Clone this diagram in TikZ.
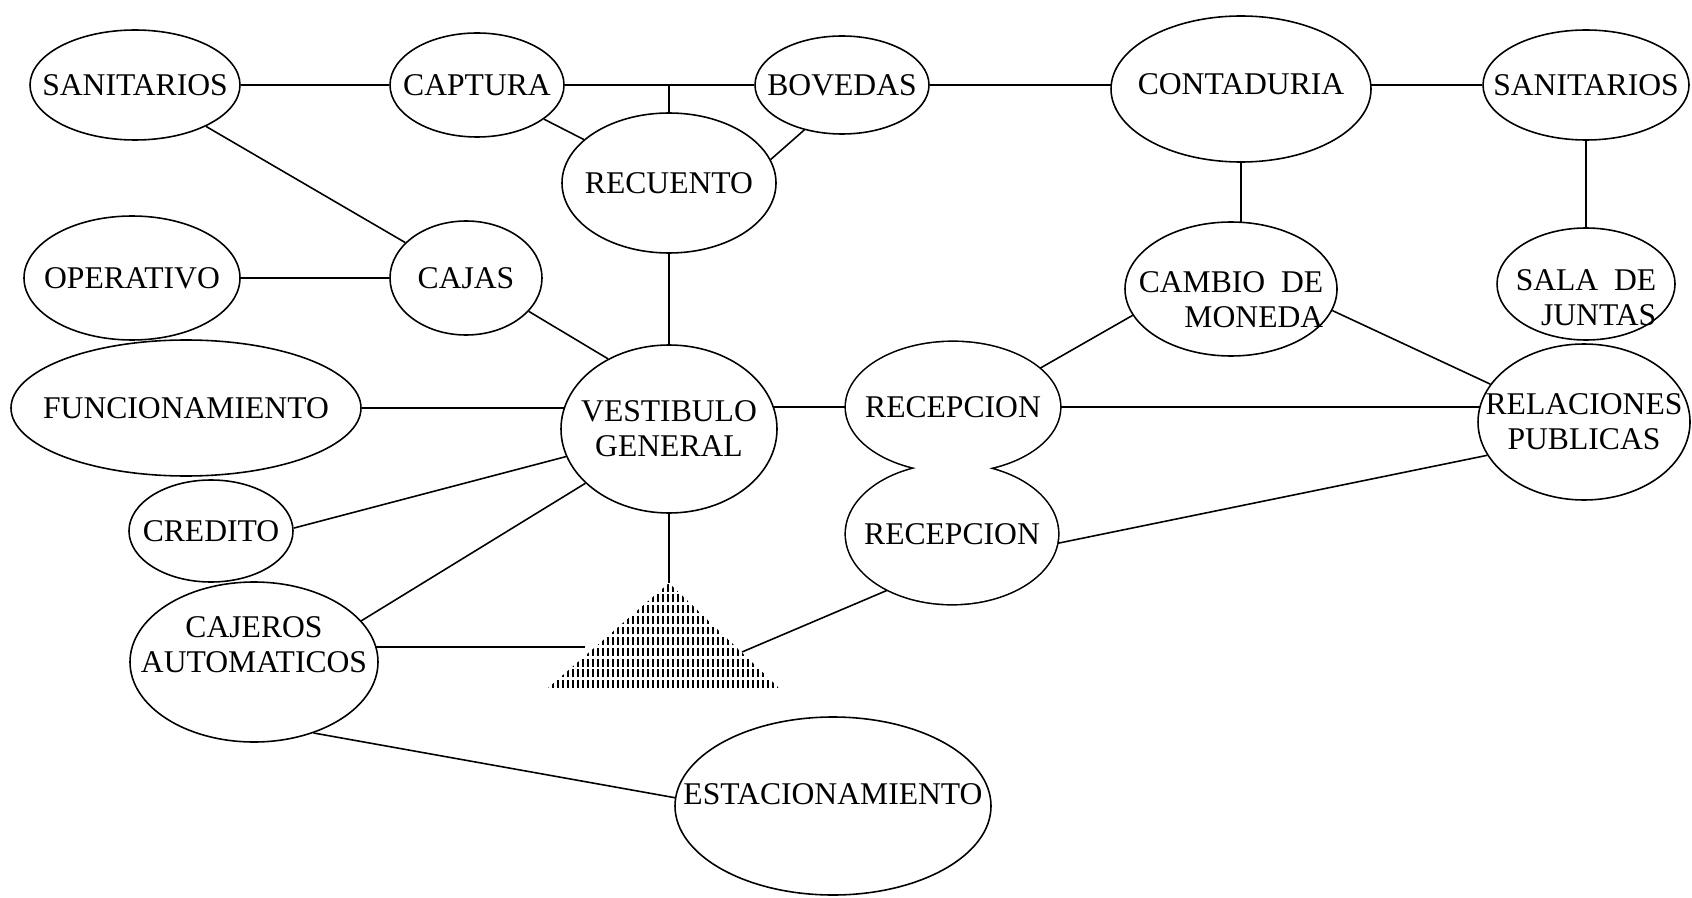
\documentclass[tikz,border=0pt]{standalone}
\usepackage{fontspec}
\setmainfont{Liberation Serif}
\usetikzlibrary{shapes.geometric,backgrounds}

\tikzset{
  room/.style 2 args={ellipse, draw, fill=white, line width=0.9pt, inner sep=0pt,
    minimum width=2*#1*0.02cm, minimum height=2*#2*0.02cm},
  every label/.style={align=center},
  link/.style={line width=0.9pt},
}

\begin{document}
\begin{tikzpicture}[x=0.02cm, y=-0.02cm, font=\fontsize{18}{20}\selectfont]
  \useasboundingbox (0,0) rectangle (1692,898);

  % top row
  \node[room={105}{55}, label=center:SANITARIOS] (sanL) at (135,85) {};
  \node[room={87}{52}, label=center:CAPTURA] (capt) at (477,85) {};
  \node[room={87}{49}, label=center:BOVEDAS] (bov) at (842,85) {};
  \node[room={107}{70}, label=center:RECUENTO] (recu) at (669,183) {};
  \node[room={130}{73}, label={[yshift=3pt]center:CONTADURIA}] (cont) at (1241,89) {};
  \node[room={103}{55}, label=center:SANITARIOS] (sanR) at (1586,85) {};

  % second row
  \node[room={108}{62}, label=center:OPERATIVO] (oper) at (132,278) {};
  \node[room={76}{57}, label=center:CAJAS] (cajas) at (466,278) {};
  \node[room={106}{67}, label={[yshift=-6pt, align=right]center:{CAMBIO\enspace DE\\MONEDA}}] (camb) at (1231,289) {};
  \node[room={89}{56}, label={[yshift=-8pt, align=right]center:{SALA\enspace DE\\JUNTAS}}] (sala) at (1586,284) {};

  % third row
  \node[room={175}{68}, label=center:FUNCIONAMIENTO] (func) at (186,408) {};
  \node[room={108}{84}, label=center:{VESTIBULO\\GENERAL}] (vest) at (669,429) {};
  \node[room={106}{78}, label=center:{RELACIONES\\PUBLICAS}] (rel) at (1584,422) {};

  % the two joined receptions
  \draw[line width=1.8pt] (953,407) ellipse (107 and 65) (952,534) ellipse (106 and 70);
  \fill[white] (953,407) ellipse (107 and 65) (952,534) ellipse (106 and 70);
  \node[room={107}{65}, draw=none, fill=none, label=center:RECEPCION] (rec1) at (953,407) {};
  \node[room={106}{70}, draw=none, fill=none, label=center:RECEPCION] (rec2) at (952,534) {};

  % bottom
  \node[room={82}{51}, label=center:CREDITO] (cred) at (211,531) {};
  \node[room={124}{80}, label={[yshift=10pt]center:{CAJEROS\\AUTOMATICOS}}] (caj) at (254,662) {};
  \node[room={158}{89}, label={[yshift=7pt]center:ESTACIONAMIENTO}] (est) at (833,806) {};

  % hatched triangle
  \coordinate (tri-top) at (669,583);
  \coordinate (tri-l) at (585,647);
  \coordinate (tri-r) at (742,652);
  \begin{scope}
    \clip (669,583) -- (779,688) -- (548,688) -- cycle;
    \foreach \x in {548,553,...,780}
      \draw[line width=0.8pt, dash pattern=on 4.5pt off 1.6pt] (\x,688) -- (\x,580);
  \end{scope}

  % connectors
  \begin{pgfonlayer}{background}
    \draw[link] (sanL) -- (capt);
    \draw[link] (capt) -- (bov);
    \draw[link] (recu) -- (recu |- capt);
    \draw[link] (capt) -- (recu);
    \draw[link] (bov.230) -- (recu.13);
    \draw[link] (bov) -- (bov -| cont);
    \draw[link] (sanR) -- (sanR -| cont);
    \draw[link] (cont) -- (cont |- camb);
    \draw[link] (sanR) -- (sala);
    \draw[link] (sanL) -- (cajas);
    \draw[link] (oper) -- (cajas);
    \draw[link] (cajas.332) -- (vest.131);
    \draw[link] (recu) -- (vest);
    \draw[link] (func) -- (func -| vest);
    \draw[link] (rec1) -- (rec1 -| vest);
    \draw[link] (rec1) -- (rec1 -| rel);
    \draw[link] (rec1.24) -- (camb.195);
    \draw[link] (camb.348) -- (rel.158);
    \draw[link] (rec2.355) -- (rel.199);
    \draw[link] (vest.195) -- (cred.2);
    \draw[link] (vest.213) -- (caj.21);
    \draw[link] (vest) -- (tri-top);
    \draw[link] (tri-l) -- (tri-l -| caj);
    \draw[link] (rec2.221) -- (tri-r);
    \draw[link] (caj.310) -- (est.177);
  \end{pgfonlayer}
\end{tikzpicture}
\end{document}
